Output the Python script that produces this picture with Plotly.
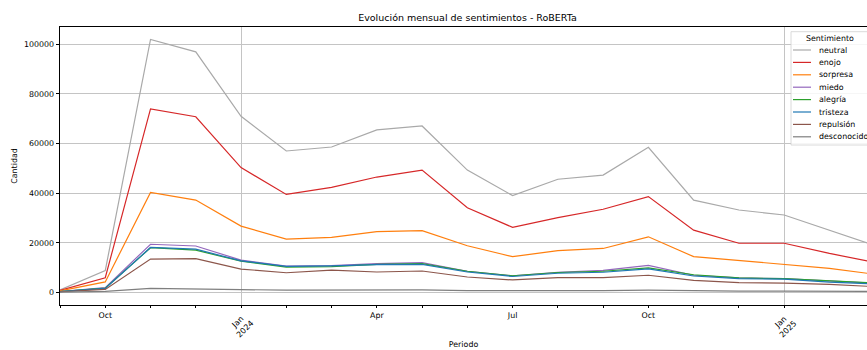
import pandas as pd
import plotly.graph_objects as go

# Meses del periodo analizado
periodos = pd.period_range("2023-09", "2025-03", freq="M")

# Conteos mensuales por sentimiento
neutral = [1000, 8800, 102000, 97000, 71000, 57000, 58600, 65500, 67100, 49300,
           39000, 45600, 47300, 58500, 37200, 33200, 31200, 25200, 18900]
enojo = [800, 5900, 74000, 70800, 50300, 39500, 42300, 46500, 49300, 34100,
         26200, 30100, 33500, 38600, 25100, 19800, 19800, 15700, 12100]
sorpresa = [600, 4200, 40300, 37200, 26700, 21500, 22200, 24500, 24900, 18800,
            14400, 16800, 17700, 22400, 14400, 12800, 11400, 9700, 7300]
miedo = [300, 1900, 19400, 18700, 13000, 10600, 10800, 11600, 12000, 8500,
         6700, 8100, 8900, 10900, 6900, 5800, 5500, 4500, 3700]
alegria = [350, 1700, 18000, 17000, 12600, 10200, 10400, 11300, 11600, 8500,
           6700, 8000, 8500, 9900, 7100, 5800, 5500, 4500, 3800]
tristeza = [300, 1600, 18100, 17400, 12700, 10500, 10700, 11200, 11300, 8200,
            6400, 7700, 8100, 9500, 6600, 5500, 5300, 4100, 3400]
repulsion = [250, 1200, 13400, 13600, 9400, 7900, 9000, 8200, 8600, 6200,
             5000, 5900, 5900, 6900, 4800, 3900, 3700, 3200, 2300]
desconocido = [100, 400, 1600, 1500, 1100, 900, 1000, 1000, 1000, 700,
               600, 700, 700, 900, 600, 500, 500, 450, 400]

sentimientos = ["neutral", "enojo", "sorpresa", "miedo", "alegría",
                "tristeza", "repulsión", "desconocido"]
valores = [neutral, enojo, sorpresa, miedo, alegria, tristeza, repulsion, desconocido]
colores = ["#a9a9a9", "#d62728", "#ff7f0e", "#9467bd", "#2ca02c",
           "#1f77b4", "#8c564b", "#7f7f7f"]

y_ticks = [0, 20000, 40000, 60000, 80000, 100000]

# Geometría de la figura (px)
W, H = 867, 350
ML, MR, MT, MB = 60, 0, 27, 45
PW, PH = W - ML - MR, H - MT - MB
FONT = "DejaVu Sans"
FS = 7.9


def px_x(px):
    return (px - ML) / PW


def px_y(py):
    return (H - MB - py) / PH


x = list(range(len(periodos)))

fig = go.Figure()
for nombre, serie, color in zip(sentimientos, valores, colores):
    fig.add_trace(go.Scatter(
        x=x, y=serie, mode="lines", name=nombre,
        line=dict(color=color, width=1.2), showlegend=False,
        hoverinfo="x+y+name",
    ))

# Etiquetas de meses trimestrales; enero lleva el año en texto girado
ticktext = [p.strftime("%b") if p.month in (4, 7, 10) else "" for p in periodos]
enero = [i for i, p in enumerate(periodos) if p.month == 1]

annotations = []
for i in enero:
    annotations.append(dict(
        x=i, xref="x", y=px_y(325), yref="paper",
        text=f"Jan<br>{periodos[i].year}", textangle=-45, showarrow=False,
        xanchor="center", yanchor="middle",
        font=dict(family=FONT, size=FS, color="#000"),
    ))

# Leyenda con título
shapes = []
leg_x0, leg_y0, leg_y1 = 791, 31.7, 145
shapes.append(dict(
    type="rect", xref="paper", yref="paper",
    x0=px_x(leg_x0), x1=px_x(leg_x0 + 110), y0=px_y(leg_y1), y1=px_y(leg_y0),
    fillcolor="rgba(255,255,255,0.85)", line=dict(color="#d0d0d0", width=0.8),
    layer="above",
))
annotations.append(dict(
    x=px_x(830), y=px_y(38.5), xref="paper", yref="paper",
    text="Sentimiento", showarrow=False, xanchor="center", yanchor="middle",
    font=dict(family=FONT, size=FS, color="#000"),
))
row0, paso = 50.0, 12.4
for k, (nombre, color) in enumerate(zip(sentimientos, colores)):
    yy = row0 + k * paso
    shapes.append(dict(
        type="line", xref="paper", yref="paper",
        x0=px_x(793), x1=px_x(811), y0=px_y(yy), y1=px_y(yy),
        line=dict(color=color, width=1.2), layer="above",
    ))
    annotations.append(dict(
        x=px_x(817), y=px_y(yy), xref="paper", yref="paper",
        text=nombre, showarrow=False, xanchor="left", yanchor="middle",
        font=dict(family=FONT, size=FS, color="#000"),
    ))

fig.update_layout(
    width=W, height=H,
    margin=dict(l=ML, r=MR, t=MT, b=MB, pad=0),
    paper_bgcolor="white", plot_bgcolor="white",
    font=dict(family=FONT, size=FS, color="#000"),
    title=dict(
        text="Evolución mensual de sentimientos - RoBERTa",
        x=467.5 / W, xref="container", xanchor="center",
        y=1 - 18 / H, yref="container", yanchor="middle",
        font=dict(family=FONT, size=9.5, color="#000"),
    ),
    xaxis=dict(
        range=[0, 17.83], tickmode="array", tickvals=x, ticktext=ticktext,
        tickangle=0, ticks="outside", ticklen=2.5, tickwidth=0.8, tickcolor="#000",
        showgrid=False, zeroline=False,
        showline=True, linecolor="#000", linewidth=0.8, mirror=True,
        minor=dict(tickmode="array", tickvals=enero, showgrid=True,
                   gridcolor="#c4c4c4", gridwidth=0.8, ticks=""),
        title=dict(text="Periodo", standoff=22, font=dict(family=FONT, size=FS)),
        automargin=False,
    ),
    yaxis=dict(
        range=[-5100, 107000], tickmode="array", tickvals=y_ticks,
        tickformat="d", ticks="outside", ticklen=3.5, tickwidth=0.8, tickcolor="#000",
        showgrid=True, gridcolor="#c4c4c4", gridwidth=0.8, zeroline=False,
        showline=True, linecolor="#000", linewidth=0.8, mirror=False,
        title=dict(text="Cantidad", standoff=5, font=dict(family=FONT, size=FS)),
        automargin=False,
    ),
    shapes=shapes,
    annotations=annotations,
)

fig.write_html("out.html")
